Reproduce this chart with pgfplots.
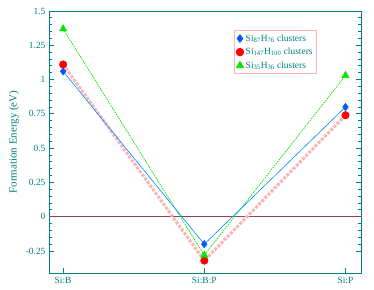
\documentclass[border=0pt]{standalone}
\usepackage{fontspec}
\setmainfont{Liberation Serif}
\usepackage{pgfplots}
\pgfplotsset{compat=1.18}
\definecolor{tl}{RGB}{0,128,128}
\definecolor{bl}{RGB}{0,90,255}
\definecolor{gr}{RGB}{0,230,0}
\definecolor{pk}{RGB}{250,180,180}
\definecolor{zl}{RGB}{150,70,70}
\begin{document}
\begin{tikzpicture}
\useasboundingbox (-49bp,-17bp) rectangle (325bp,273bp);
\begin{axis}[
  scale only axis, width=312bp, height=262bp,
  xmin=-0.1, xmax=2.11, ymin=-0.41, ymax=1.5,
  xtick={0,1,2}, xticklabels={Si:B,Si:B:P,Si:P},
  ytick={-0.25,0,0.25,0.5,0.75,1,1.25,1.5},
  yticklabels={-0.25,0,0.25,0.5,0.75,1,1.25,1.5},
  minor y tick num=4,
  tick align=inside,
  major tick length=5bp, minor tick length=3bp,
  xtick pos=bottom, ytick pos=both,
  axis line style={tl, line width=0.8bp},
  every tick/.style={tl, line width=0.8bp},
  tick label style={font=\fontsize{9.5}{10}\selectfont, text=tl},
  xticklabel style={yshift=-1bp},
  ylabel={Formation Energy (eV)},
  every axis y label/.style={at={(axis description cs:-0.112,0.5)},rotate=90,anchor=center,
    font=\fontsize{11}{12}\selectfont, text=tl},
  legend style={at={(axis description cs:0.859,0.927)}, anchor=north east,
    draw=pk, line width=0.8bp, font=\fontsize{9.5}{10}\selectfont, text=tl,
    inner sep=2bp, row sep=1.5bp, cells={anchor=west}},
  legend cell align=left,
  clip=false,
]
\addplot[zl, line width=0.8bp, forget plot] coordinates {(-0.1,0) (2.11,0)};
\addplot[pk, line width=3bp, dash pattern=on 3bp off 1.5bp, forget plot] coordinates {(0,1.11) (1,-0.32) (2,0.74)};
\addplot[gr, line width=0.7bp, dash pattern=on 1.5bp off 1bp, forget plot] coordinates {(0,1.37) (1,-0.28) (2,1.03)};
\addplot[bl!70!cyan, line width=0.6bp, forget plot] coordinates {(0,1.06) (1,-0.20) (2,0.80)};
\addplot[only marks, mark=diamond*, mark size=3.8bp, mark options={fill=bl, draw=bl}] coordinates {(0,1.06) (1,-0.20) (2,0.80)};
\addlegendentry{Si\textsubscript{87}H\textsubscript{76} clusters}
\addplot[only marks, mark=*, mark size=3.8bp, mark options={fill=red, draw=red}] coordinates {(0,1.11) (1,-0.32) (2,0.74)};
\addlegendentry{Si\textsubscript{147}H\textsubscript{100} clusters}
\addplot[only marks, mark=triangle*, mark size=4.2bp, mark options={fill=gr, draw=gr}] coordinates {(0,1.37) (1,-0.28) (2,1.03)};
\addlegendentry{Si\textsubscript{35}H\textsubscript{36} clusters}
\end{axis}
\end{tikzpicture}
\end{document}
